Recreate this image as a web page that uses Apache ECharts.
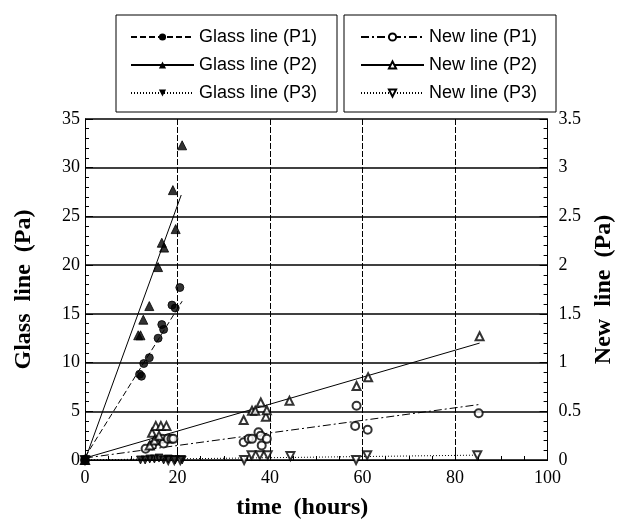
<!DOCTYPE html>
<html>
<head>
<meta charset="utf-8">
<script src="https://cdn.jsdelivr.net/npm/echarts@6/dist/echarts.min.js"></script>
<style>
html,body{margin:0;padding:0;background:#fff;}
#chart{width:624px;height:525px;}
</style>
</head>
<body>
<div id="chart"></div>
<script>
// ---- Data (hours, Pa) ----
const glassNames = ['Glass line (P1)', 'Glass line (P2)', 'Glass line (P3)'];
const newNames = ['New line (P1)', 'New line (P2)', 'New line (P3)'];
const xTicks = [0, 20, 40, 60, 80, 100];
const leftTicks = [0, 5, 10, 15, 20, 25, 30, 35];
const rightTicks = [0, 0.5, 1, 1.5, 2, 2.5, 3, 3.5];

// Glass line (left axis, Pa)
const glassP1 = [[0,0],[11.8,8.8],[12.2,8.6],[12.7,9.9],[13.9,10.5],[15.8,12.5],[16.6,13.9],[17.0,13.4],[18.8,15.9],[19.5,15.6],[20.5,17.7]];
const glassP2 = [[0,0],[11.5,12.8],[12.0,12.8],[12.6,14.4],[13.9,15.8],[15.8,19.8],[16.6,22.3],[17.1,21.8],[19.0,27.7],[19.6,23.7],[21.0,32.3]];
const glassP3 = [[0,0],[12,0],[13,0],[14,0.1],[15,0.1],[16,0.2],[17,0],[18,0.1],[19.5,0],[21,0]];
const glassP1Fit = [[0,0.3],[21,16.3]];
const glassP2Fit = [[0,0],[20.8,27.2]];
const glassP3Fit = [[0,0],[21,0.15]];

// New line (right axis, Pa)
const newP1 = [[0,0],[13.1,0.115],[14.5,0.15],[15.5,0.2],[16.6,0.217],[17,0.17],[17.9,0.217],[18.7,0.217],[19.1,0.217],[34.3,0.183],[35.4,0.217],[36.1,0.217],[37.5,0.285],[38,0.25],[38.2,0.15],[39.3,0.217],[58.4,0.35],[58.7,0.556],[61.1,0.31],[85.1,0.48]];
const newP2 = [[0,0],[14,0.15],[14.5,0.28],[15,0.2],[15.3,0.35],[16,0.25],[16.4,0.35],[17.6,0.35],[34.3,0.41],[36.1,0.505],[36.8,0.505],[38,0.59],[39.1,0.445],[39.3,0.51],[44.2,0.607],[58.7,0.76],[61.2,0.85],[85.3,1.27]];
const newP3 = [[0,0],[18,0],[19.3,0],[20.6,0],[34.4,0],[36,0.05],[37.8,0.05],[39.5,0.05],[44.4,0.04],[58.6,0],[61,0.05],[84.8,0.05]];
const newP1Fit = [[0,0.02],[85.3,0.57]];
const newP2Fit = [[0,0.02],[85.3,1.2]];
const newP3Fit = [[0,0],[85,0.05]];

// ---- Chart ----
const chart = echarts.init(document.getElementById('chart'), null, {renderer: 'canvas'});
const serif = 'Liberation Serif';
const sans = 'Liberation Sans';

function fitSeries(name, data, yIdx, symbol, rotate, dash) {
  return {
    type: 'line', name: name, data: data, yAxisIndex: yIdx,
    showSymbol: false, symbol: symbol, symbolRotate: rotate, symbolSize: 8,
    lineStyle: {color: '#000', width: 1, type: dash},
    itemStyle: {color: '#000'},
    silent: true, z: 2
  };
}
function ptSeries(name, data, yIdx, symbol, rotate, size) {
  return {
    type: 'scatter', name: name, data: data, yAxisIndex: yIdx,
    symbol: symbol, symbolRotate: rotate, symbolSize: size,
    itemStyle: {color: '#000', borderColor: '#000', borderWidth: 1},
    silent: true, z: 3
  };
}

const legendBase = {
  orient: 'vertical', top: 15, selectedMode: false,
  itemWidth: 63, itemHeight: 9, itemGap: 8,
  padding: [12, 14, 9, 14],
  borderColor: '#000', borderWidth: 1,
  textStyle: {fontFamily: sans, fontSize: 18, color: '#000', lineHeight: 20}
};
const titleStyle = {fontFamily: serif, fontSize: 24, fontWeight: 'bold', color: '#000'};
const tickStyle = {fontFamily: serif, fontSize: 18, color: '#000'};

const option = {
  animation: false,
  backgroundColor: '#fff',
  grid: {left: 85, right: 68, top: 119, bottom: 62},
  legend: [
    Object.assign({}, legendBase, {left: 116, data: glassNames,
      textStyle: Object.assign({}, legendBase.textStyle, {width: 124})}),
    Object.assign({}, legendBase, {left: 344, data: newNames, padding: [12, 15, 9, 16],
      textStyle: Object.assign({}, legendBase.textStyle, {width: 112})})
  ],
  xAxis: {
    type: 'value', min: xTicks[0], max: xTicks[xTicks.length - 1], interval: 20,
    name: 'time  (hours)', nameLocation: 'middle', nameGap: 36,
    nameTextStyle: Object.assign({}, titleStyle, {padding: [0, 28, 0, 0]}),
    axisLine: {show: true, lineStyle: {color: '#000', width: 1}},
    axisTick: {show: true, inside: true, length: 8, lineStyle: {color: '#000'}},
    minorTick: {show: true, splitNumber: 4, length: 4, lineStyle: {color: '#000'}},
    axisLabel: Object.assign({}, tickStyle, {margin: 9}),
    splitLine: {show: true, lineStyle: {color: '#000', width: 1, type: [6, 2]}}
  },
  yAxis: [
    {
      type: 'value', min: leftTicks[0], max: leftTicks[leftTicks.length - 1], interval: 5, position: 'left',
      name: 'Glass  line  (Pa)', nameLocation: 'middle', nameGap: 49, nameRotate: 90,
      nameTextStyle: titleStyle,
      axisLine: {show: true, lineStyle: {color: '#000', width: 1}},
      axisTick: {show: true, inside: true, length: 8, lineStyle: {color: '#000'}},
      minorTick: {show: true, splitNumber: 5, length: 4, lineStyle: {color: '#000'}},
      axisLabel: Object.assign({}, tickStyle, {margin: 5}),
      splitLine: {show: true, lineStyle: {color: '#000', width: 1.5}}
    },
    {
      type: 'value', min: rightTicks[0], max: rightTicks[rightTicks.length - 1], interval: 0.5, position: 'right',
      name: 'New  line  (Pa)', nameLocation: 'middle', nameGap: 42, nameRotate: 90,
      nameTextStyle: titleStyle,
      axisLine: {show: true, lineStyle: {color: '#000', width: 1}},
      axisTick: {show: true, inside: true, length: 8, lineStyle: {color: '#000'}},
      minorTick: {show: true, splitNumber: 5, length: 4, lineStyle: {color: '#000'}},
      axisLabel: Object.assign({}, tickStyle, {margin: 11}),
      splitLine: {show: false}
    }
  ],
  series: [
    fitSeries(glassNames[0], glassP1Fit, 0, 'circle', 0, [6, 3]),
    fitSeries(glassNames[1], glassP2Fit, 0, 'triangle', 0, 'solid'),
    fitSeries(glassNames[2], glassP3Fit, 0, 'triangle', 180, [1, 2]),
    fitSeries(newNames[0], newP1Fit, 1, 'emptyCircle', 0, [8, 3, 2, 3]),
    fitSeries(newNames[1], newP2Fit, 1, 'emptyTriangle', 0, 'solid'),
    fitSeries(newNames[2], newP3Fit, 1, 'emptyTriangle', 180, [1, 2]),
    ptSeries(newNames[0], newP1, 1, 'emptyCircle', 0, 8),
    ptSeries(newNames[1], newP2, 1, 'emptyTriangle', 0, 8),
    ptSeries(newNames[2], newP3, 1, 'emptyTriangle', 180, 8),
    ptSeries(glassNames[0], glassP1, 0, 'circle', 0, 8),
    ptSeries(glassNames[1], glassP2, 0, 'triangle', 0, 9),
    ptSeries(glassNames[2], glassP3, 0, 'triangle', 180, 8)
  ]
};
chart.setOption(option);
</script>
</body>
</html>
